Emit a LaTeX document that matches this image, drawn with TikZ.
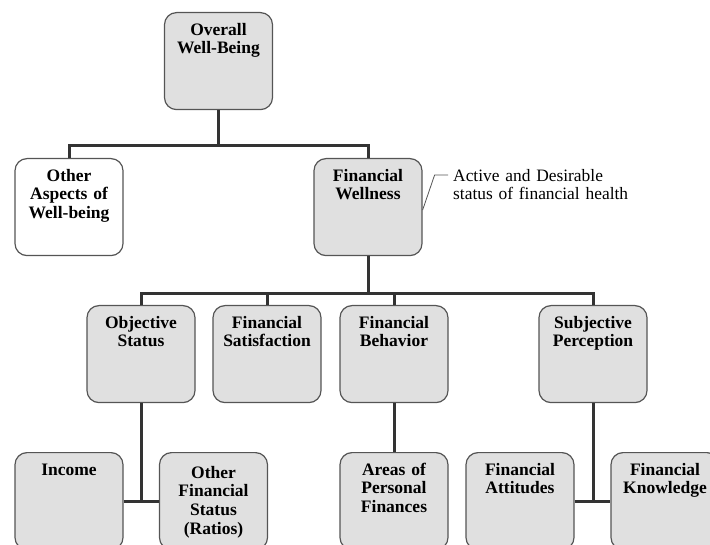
\documentclass[tikz,border=0pt]{standalone}
\usepackage{fontspec}
\setmainfont{Liberation Serif}
\definecolor{boxgray}{RGB}{224,224,224}
\definecolor{edgegray}{RGB}{85,85,85}
\definecolor{linkgray}{RGB}{51,51,51}
\tikzset{
  box/.style={draw=edgegray, line width=1.2pt, fill=boxgray, rounded corners=12pt,
    anchor=north, align=center, text width=104pt, inner xsep=2pt, inner ysep=8pt,
    text height=14.5pt, text depth=66.5pt, font=\bfseries\fontsize{17.5}{18.8}\selectfont},
  whitebox/.style={box, fill=white},
  link/.style={draw=linkgray, line width=3pt},
  note/.style={draw=edgegray, line width=0.8pt}
}
\begin{document}
\begin{tikzpicture}[x=1pt,y=-1pt]
  \useasboundingbox (0,0) rectangle (710,545);
  \node[box] (ow) at (218.5,12) {Overall\\Well-Being};
  \node[whitebox] (oa) at (69,158) {Other\\Aspects of\\Well-being};
  \node[box] (fw) at (368,158) {Financial\\Wellness};
  \node[box] (os) at (141,305) {Objective\\Status};
  \node[box] (fs) at (267,305) {Financial\\Satisfaction};
  \node[box] (fb) at (394,305) {Financial\\Behavior};
  \node[box] (sp) at (593,305) {Subjective\\Perception};
  \node[box] (inc) at (69,452) {Income};
  \node[box, text height=17.5pt, text depth=63.5pt] (ofs) at (213.5,452) {Other\\Financial\\Status\\(Ratios)};
  \node[box] (apf) at (394,452) {Areas of\\Personal\\Finances};
  \node[box] (fa) at (520,452) {Financial\\Attitudes};
  \node[box] (fk) at (665,452) {Financial\\Knowledge};
  \node[anchor=north west, inner sep=0pt, align=left, text width=200pt, text height=13pt,
    font=\fontsize{17.4}{18}\selectfont] (act) at (453,168.5) {Active and Desirable\\status of financial health};
  % tree
  \draw[link] (ow.south) -- ++(0,35) -| (oa.north);
  \draw[link] (ow.south) -- ++(0,35) -| (fw.north);
  \foreach \k in {os,fs,fb,sp}
    \draw[link] (fw.south) -- ++(0,37) -| (\k.north);
  \draw[link] (inc.east) -- (ofs.west);
  \draw[link] (os.south) -- (os.south |- inc.east);
  \draw[link] (fb.south) -- (apf.north);
  \draw[link] (fa.east) -- (fk.west);
  \draw[link] (sp.south) -- (sp.south |- fa.east);
  % note
  \coordinate (nt) at (448,175);
  \draw[note] ([yshift=-3pt]fw.east) -- ([xshift=12pt]fw.east |- nt) -- (nt);
\end{tikzpicture}
\end{document}
